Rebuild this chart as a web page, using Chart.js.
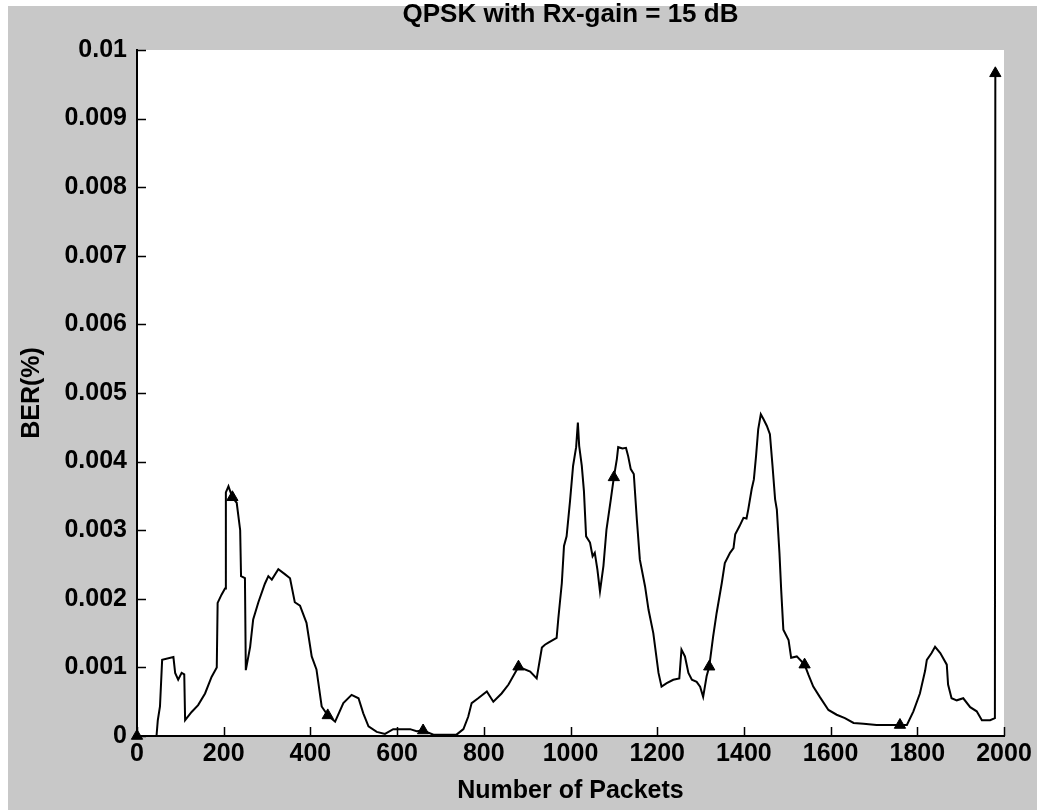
<!DOCTYPE html>
<html>
<head>
<meta charset="utf-8">
<script src="https://cdn.jsdelivr.net/npm/chart.js@4.4.1/dist/chart.umd.min.js"></script>
<style>
  html, body { margin: 0; padding: 0; background: #fff; }
  #wrap { width: 1037px; height: 810px; }
</style>
</head>
<body>
<div id="wrap"><canvas id="ber-chart" width="1037" height="810"></canvas></div>
<script>
// packets vs BER
const packets = [
  0, 45, 48, 53, 58, 84, 88, 95, 103, 109, 111, 126, 141, 157, 172, 184, 186, 195, 203, 205,
  211, 220, 230, 238, 240, 249, 251, 261, 268, 280, 295, 303, 311, 326, 341, 353, 364, 376, 391, 403,
  414, 426, 440, 457, 476, 495, 511, 522, 534, 553, 572, 591, 630, 645, 660, 684, 737, 753, 764, 772,
  787, 807, 822, 841, 857, 880, 907, 922, 934, 941, 949, 968, 972, 980, 985, 991, 999, 1006, 1013, 1017,
  1020, 1026, 1031, 1036, 1045, 1051, 1056, 1062, 1068, 1076, 1083, 1093, 1100, 1107, 1110, 1120, 1128, 1133, 1139, 1146,
  1153, 1160, 1172, 1180, 1191, 1203, 1210, 1222, 1237, 1251, 1256, 1264, 1272, 1280, 1291, 1299, 1306, 1314, 1320, 1329,
  1337, 1349, 1356, 1368, 1376, 1380, 1390, 1399, 1406, 1410, 1418, 1423, 1428, 1433, 1439, 1445, 1453, 1460, 1466, 1472,
  1476, 1482, 1486, 1491, 1503, 1509, 1522, 1540, 1549, 1560, 1575, 1595, 1614, 1633, 1653, 1676, 1706, 1737, 1760, 1776,
  1791, 1806, 1818, 1822, 1833, 1841, 1853, 1868, 1871, 1879, 1891, 1906, 1922, 1937, 1949, 1968, 1979, 1980
];
const ber = [
  0, 0, 0.00023, 0.00043, 0.00111, 0.00115, 0.00092, 0.00082, 0.00092, 0.0009, 0.00023, 0.00035, 0.00045, 0.00062, 0.00086, 0.001, 0.00194, 0.00206, 0.00215, 0.00355,
  0.00364, 0.00348, 0.0034, 0.003, 0.00233, 0.0023, 0.00096, 0.0013, 0.0017, 0.00195, 0.00222, 0.00233, 0.00228, 0.00243, 0.00236, 0.0023, 0.00195, 0.0019, 0.00165, 0.00116,
  0.00097, 0.00043, 0.0003, 0.00021, 0.00048, 0.0006, 0.00055, 0.00033, 0.00014, 0.00006, 0.00003, 0.0001, 0.0001, 0.00007, 0.00008, 0.00002, 0.00002, 0.0001, 0.00028, 0.00048,
  0.00055, 0.00065, 0.0005, 0.00062, 0.00075, 0.00101, 0.00094, 0.00084, 0.00129, 0.00133, 0.00136, 0.00143, 0.00172, 0.00223, 0.00277, 0.00291, 0.00343, 0.00394, 0.00421, 0.00457,
  0.00423, 0.00394, 0.00357, 0.00291, 0.00282, 0.00262, 0.00267, 0.00243, 0.00211, 0.00248, 0.00301, 0.00345, 0.00377, 0.00404, 0.00421, 0.00419, 0.0042, 0.00408, 0.00389, 0.00382,
  0.00316, 0.00257, 0.00218, 0.00184, 0.0015, 0.00092, 0.00072, 0.00077, 0.00082, 0.00084, 0.00126, 0.00116, 0.00092, 0.00082, 0.00079, 0.00072, 0.00057, 0.00087, 0.00101, 0.00145,
  0.00179, 0.00223, 0.00252, 0.00267, 0.00274, 0.00294, 0.00306, 0.00318, 0.00317, 0.0033, 0.0036, 0.00374, 0.00408, 0.00447, 0.00469, 0.00462, 0.00452, 0.0044, 0.00394, 0.00345,
  0.0033, 0.00267, 0.00213, 0.00155, 0.0014, 0.00114, 0.00116, 0.00104, 0.00089, 0.00072, 0.00057, 0.00038, 0.00031, 0.00026, 0.00019, 0.00018, 0.00016, 0.00016, 0.00016, 0.00016,
  0.00036, 0.00062, 0.00095, 0.00111, 0.00121, 0.0013, 0.00121, 0.00104, 0.00075, 0.00055, 0.00052, 0.00055, 0.00042, 0.00036, 0.00023, 0.00023, 0.00026, 0.00966
];

// triangle markers every 220 packets
const markerPackets = [0, 220, 440, 660, 880, 1100, 1320, 1540, 1760, 1980];
const markerBer = [0, 0.00348, 0.0003, 0.00008, 0.00101, 0.00377, 0.00101, 0.00104, 0.00016, 0.00966];

const xTickLabels = ['0', '200', '400', '600', '800', '1000', '1200', '1400', '1600', '1800', '2000'];
const yTickLabels = ['0', '0.001', '0.002', '0.003', '0.004', '0.005', '0.006', '0.007', '0.008', '0.009', '0.01'];

const FONT = "'Liberation Sans', Arial, sans-serif";

// gray figure background, white axes box
const bgPlugin = {
  id: 'bg',
  beforeDraw(chart) {
    const { ctx, width, height, chartArea: a } = chart;
    ctx.save();
    ctx.fillStyle = '#ffffff';
    ctx.fillRect(0, 0, width, height);
    ctx.fillStyle = '#c8c8c8';
    ctx.fillRect(8, 6, width - 8, height - 6);
    ctx.fillStyle = '#ffffff';
    ctx.fillRect(a.left, a.top, a.right - a.left, a.bottom - a.top);
    ctx.restore();
  }
};

// matlab style ticks pointing into the plot
const inTicks = {
  id: 'inTicks',
  afterDraw(chart) {
    const { ctx, chartArea: a, scales } = chart;
    ctx.save();
    ctx.strokeStyle = '#000';
    ctx.lineWidth = 1.5;
    ctx.beginPath();
    scales.x.ticks.forEach(t => {
      const px = Math.round(scales.x.getPixelForValue(t.value)) + 0.5;
      ctx.moveTo(px, a.bottom);
      ctx.lineTo(px, a.bottom - 9);
    });
    scales.y.ticks.forEach(t => {
      const py = Math.round(scales.y.getPixelForValue(t.value)) + 0.5;
      ctx.moveTo(a.left, py);
      ctx.lineTo(a.left + 9, py);
    });
    ctx.stroke();
    ctx.restore();
  }
};

new Chart(document.getElementById('ber-chart'), {
  type: 'line',
  data: {
    datasets: [
      {
        data: packets.map((p, i) => ({ x: p, y: ber[i] })),
        borderColor: '#000',
        borderWidth: 2,
        pointRadius: 0,
        tension: 0
      },
      {
        data: markerPackets.map((p, i) => ({ x: p, y: markerBer[i] })),
        showLine: false,
        clip: false,
        pointStyle: 'triangle',
        pointRadius: 6.5,
        pointBackgroundColor: '#000',
        pointBorderColor: '#000',
        pointBorderWidth: 1
      }
    ]
  },
  options: {
    responsive: false,
    animation: false,
    layout: { padding: { left: 0, right: 33, top: 0, bottom: 0 } },
    plugins: {
      legend: { display: false },
      tooltip: { enabled: false },
      title: {
        display: true,
        text: 'QPSK with Rx-gain = 15 dB',
        fullSize: false,
        color: '#000',
        font: { family: FONT, size: 26, weight: 'bold', lineHeight: 0.9 },
        padding: { top: 3, bottom: 23.6 }
      }
    },
    scales: {
      x: {
        type: 'linear',
        min: 0,
        max: 2000,
        grid: { display: false, drawTicks: false },
        border: { display: true, color: '#000', width: 2 },
        ticks: {
          stepSize: 200,
          autoSkip: false,
          maxRotation: 0,
          padding: 3,
          color: '#000',
          font: { family: FONT, size: 25, weight: 'bold' },
          callback: (v, i) => xTickLabels[i]
        },
        title: {
          display: true,
          text: 'Number of Packets',
          color: '#000',
          font: { family: FONT, size: 25, weight: 'bold' },
          padding: { top: 0, bottom: 4 }
        },
        afterFit(scale) { scale.height = 74; }
      },
      y: {
        min: 0,
        max: 0.01,
        grid: { display: false, drawTicks: false },
        border: { display: true, color: '#000', width: 2 },
        ticks: {
          stepSize: 0.001,
          autoSkip: false,
          padding: 10,
          color: '#000',
          font: { family: FONT, size: 25, weight: 'bold' },
          callback: (v, i) => yTickLabels[i]
        },
        title: {
          display: true,
          text: 'BER(%)',
          color: '#000',
          font: { family: FONT, size: 25, weight: 'bold' },
          padding: { top: 17, bottom: 0 }
        },
        afterFit(scale) { scale.width = 137; }
      }
    }
  },
  plugins: [bgPlugin, inTicks]
});
</script>
</body>
</html>
